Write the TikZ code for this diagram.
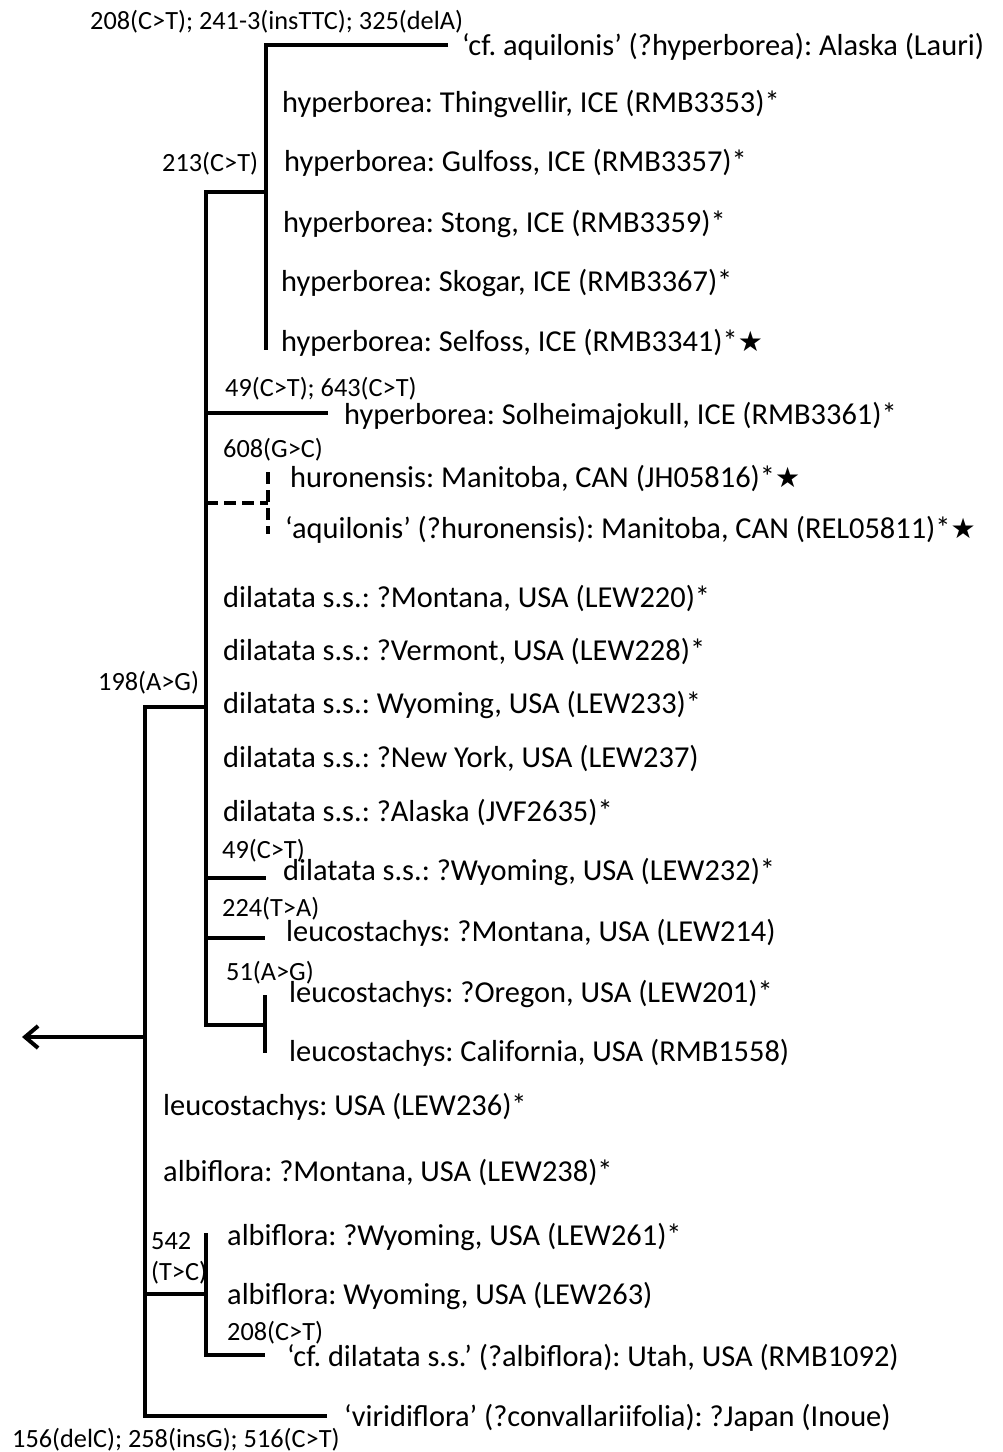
\documentclass[tikz,border=0pt]{standalone}
\usepackage{fontspec}
\setmainfont{Carlito}
\newfontfamily\symbfont{DejaVu Sans}
\usepackage{tikz}
\usetikzlibrary{arrows.meta, calc, positioning}
\newcommand{\etoile}{{\symbfont\fontsize{28}{28}\selectfont ★}}
\frenchspacing

\begin{document}
\begin{tikzpicture}[
			x=1pt, y=-1pt,
			branche/.style={draw, line width=4pt},
			pointille/.style={draw, line width=4pt, dash pattern=on 12pt off 6pt},
			feuille/.style={anchor=west, inner sep=0pt, font=\fontsize{30.4}{36}\selectfont},
			mutation/.style={anchor=west, inner sep=0pt, align=left, font=\fontsize{26.3}{31}\selectfont},
			>={Straight Barb[length=13pt, width=22pt]} % fleche ouverte
			]

			\useasboundingbox (0,0) rectangle (1003,1452);

			% Les points de l'arbre
			\coordinate (r1) at (145,707);
			\coordinate (r2) at (145,1416);
			\coordinate (rA) at (145,1037);
			\coordinate (fleche) at (22,1037);
			\coordinate (a0) at (206,707);
			\coordinate (a1) at (206,192);
			\coordinate (a2) at (206,1025);
			\coordinate (b0) at (266,192);
			\coordinate (b1) at (266,45);
			\coordinate (b2) at (266,350);
			\coordinate (tcf) at (448,45);
			\coordinate (tsol) at (328,413);
			\coordinate (tdash) at (268,503);
			\coordinate (td1) at (268,472);
			\coordinate (td2) at (268,534);
			\coordinate (t49) at (266,878);
			\coordinate (t224) at (265,938);
			\coordinate (l0) at (265,1025);
			\coordinate (l1) at (265,995);
			\coordinate (l2) at (265,1053);
			\coordinate (c0) at (206,1294);
			\coordinate (c1) at (206,1233);
			\coordinate (c2) at (206,1355);
			\coordinate (tcf2) at (265,1355);
			\coordinate (tviri) at (327,1416);

			% Les feuilles
			\node[feuille] (cfaq) at (462,47) {‘cf. aquilonis’ (?hyperborea): Alaska (Lauri)};
			\node[feuille] (thing) at (282,104) {hyperborea: Thingvellir, ICE (RMB3353)*};
			\node[feuille] (gulf) at (284,163) {hyperborea: Gulfoss, ICE (RMB3357)*};
			\node[feuille] (stong) at (283,224) {hyperborea: Stong, ICE (RMB3359)*};
			\node[feuille] (skog) at (281,283) {hyperborea: Skogar, ICE (RMB3367)*};
			\node[feuille] (self) at (281,343) {hyperborea: Selfoss, ICE (RMB3341)*\etoile};
			\node[feuille] (solh) at (344,416) {hyperborea: Solheimajokull, ICE (RMB3361)*};
			\node[feuille] (huro) at (290,478) {huronensis: Manitoba, CAN (JH05816)*\etoile};
			\node[feuille] (aqui) at (285,530) {‘aquilonis’ (?huronensis): Manitoba, CAN (REL05811)*\etoile};
			\node[feuille] (dil1) at (223,598) {dilatata s.s.: ?Montana, USA (LEW220)*};
			\node[feuille] (dil2) at (223,651) {dilatata s.s.: ?Vermont, USA (LEW228)*};
			\node[feuille] (dil3) at (223,705) {dilatata s.s.: Wyoming, USA (LEW233)*};
			\node[feuille] (dil4) at (223,758) {dilatata s.s.: ?New York, USA (LEW237)};
			\node[feuille] (dil5) at (223,812) {dilatata s.s.: ?Alaska (JVF2635)*};
			\node[feuille] (dil6) at (283,872) {dilatata s.s.: ?Wyoming, USA (LEW232)*};
			\node[feuille] (leu1) at (286,933) {leucostachys: ?Montana, USA (LEW214)};
			\node[feuille] (leu2) at (289,994) {leucostachys: ?Oregon, USA (LEW201)*};
			\node[feuille] (leu3) at (289,1053) {leucostachys: California, USA (RMB1558)};
			\node[feuille] (leu4) at (163,1107) {leucostachys: USA (LEW236)*};
			\node[feuille] (alb1) at (163,1172) {albiflora: ?Montana, USA (LEW238)*};
			\node[feuille] (alb2) at (227,1237) {albiflora: ?Wyoming, USA (LEW261)*};
			\node[feuille] (alb3) at (227,1296) {albiflora: Wyoming, USA (LEW263)};
			\node[feuille] (cfdil) at (287,1357) {‘cf. dilatata s.s.’ (?albiflora): Utah, USA (RMB1092)};
			\node[feuille] (viri) at (344,1418) {‘viridiflora’ (?convallariifolia): ?Japan (Inoue)};

			% Les mutations
			\node[mutation] (m208a) at (90,22) {208(C>T); 241-3(insTTC); 325(delA)};
			\node[mutation] (m213) at (162,164) {213(C>T)};
			\node[mutation] (m49a) at (225,389) {49(C>T); 643(C>T)};
			\node[mutation] (m608) at (223,450) {608(G>C)};
			\node[mutation] (m198) at (98,683) {198(A>G)};
			\node[mutation] (m49b) at (222,851) {49(C>T)};
			\node[mutation] (m224) at (222,909) {224(T>A)};
			\node[mutation] (m51) at (226,973) {51(A>G)};
			\node[mutation] (m542) at (151,1258) {542\\(T>C)};
			\node[mutation] (m208b) at (227,1333) {208(C>T)};
			\node[mutation] (m156) at (12,1440) {156(delC); 258(insG); 516(C>T)};

			% Les branches
			\draw[branche] (tviri) -- (r2) -- (r1) -- (a0);
			\draw[branche, ->] (rA) -- (fleche);
			\draw[branche] (b0) -- (a1) -- (a2) -- (l0);
			\draw[branche] (tcf) -- (b1) -- (b2);
			\draw[branche] (l1) -- (l2);
			\draw[branche] (a1 |- tsol) -- (tsol);
			\draw[pointille] (a1 |- tdash) -- (tdash);
			\draw[pointille] (td1) -- (td2);
			\draw[branche] (a1 |- t49) -- (t49);
			\draw[branche] (a1 |- t224) -- (t224);
			\draw[branche] (r1 |- c0) -- (c0);
			\draw[branche] (c1) -- (c2) -- (tcf2);
		\end{tikzpicture}
\end{document}
